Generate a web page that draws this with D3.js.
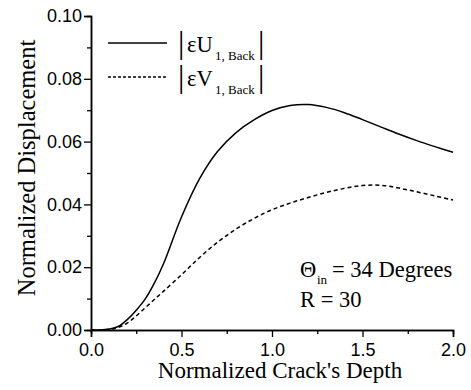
<!DOCTYPE html>
<html>
<head>
<meta charset="utf-8">
<script src="https://cdn.jsdelivr.net/npm/d3@7"></script>
<style>
  body { margin: 0; background: #fff; }
  svg { display: block; }
</style>
</head>
<body>
<svg id="chart" width="471" height="390"></svg>
<script>
// crack depth (normalized)
var depth = [0, 0.05, 0.1, 0.15, 0.2, 0.25, 0.3, 0.35, 0.4, 0.5, 0.6, 0.7, 0.8, 0.9, 1.0,
             1.1, 1.2, 1.3, 1.4, 1.5, 1.6, 1.7, 1.8, 1.9, 2.0];
// |eps U 1,Back|
var uBack = [0, 0, 0.0003, 0.0011, 0.0033, 0.0063, 0.0099, 0.0149, 0.021, 0.036, 0.0482, 0.0569,
             0.0628, 0.0669, 0.0699, 0.0715, 0.0718, 0.0709, 0.0692, 0.0670, 0.0647, 0.0624,
             0.0603, 0.0584, 0.0566];
// |eps V 1,Back|
var vBack = [0, 0, 0.0002, 0.0008, 0.0022, 0.0045, 0.0071, 0.0097, 0.0123, 0.0176, 0.0231, 0.0280,
             0.0321, 0.0355, 0.0383, 0.0404, 0.0422, 0.0438, 0.0451, 0.0460, 0.0461, 0.0452,
             0.0440, 0.0427, 0.0414];
var xTicks = [0, 0.5, 1.0, 1.5, 2.0];
var xMinor = [0.25, 0.75, 1.25, 1.75];
var yTicks = [0, 0.02, 0.04, 0.06, 0.08, 0.10];
var yMinor = [0.01, 0.03, 0.05, 0.07, 0.09];

var svg = d3.select("#chart");
var x = d3.scaleLinear().domain([0, 2]).range([91, 453]);
var y = d3.scaleLinear().domain([0, 0.1]).range([330, 16]);

/* axes: major and minor ticks, only left and bottom */
svg.append("g").attr("transform", "translate(0,330)")
    .call(d3.axisBottom(x).tickValues(xMinor).tickSize(4).tickFormat(""));
svg.append("g").attr("transform", "translate(0,330)")
    .call(d3.axisBottom(x).tickValues(xTicks).tickSize(7).tickPadding(6)
        .tickFormat(d3.format(".1f")));
svg.append("g").attr("transform", "translate(91,0)")
    .call(d3.axisLeft(y).tickValues(yMinor).tickSize(4).tickFormat(""));
svg.append("g").attr("transform", "translate(91,0)")
    .call(d3.axisLeft(y).tickValues(yTicks).tickSize(7).tickPadding(2)
        .tickFormat(d3.format(".2f")));

svg.selectAll(".domain").attr("stroke", "#000").attr("stroke-width", 1.5);
svg.selectAll(".tick line").attr("stroke", "#000").attr("stroke-width", 1.3);
svg.selectAll(".tick text").attr("font-family", "'Liberation Sans', Arial, sans-serif")
    .attr("font-size", 18).attr("fill", "#000");

/* curves */
var line = function(vals) {
    return d3.line().x(function(d, i) { return x(depth[i]); })
        .y(function(d) { return y(d); }).curve(d3.curveCatmullRom.alpha(0.5))(vals);
};
svg.append("path").attr("d", line(uBack)).attr("fill", "none")
    .attr("stroke", "#000").attr("stroke-width", 1.5);
svg.append("path").attr("d", line(vBack)).attr("fill", "none")
    .attr("stroke", "#000").attr("stroke-width", 1.5).attr("stroke-dasharray", "4,3");

/* axis titles */
var serif = "'Liberation Serif', 'Times New Roman', serif";
svg.append("text").attr("x", 280).attr("y", 378).attr("text-anchor", "middle")
    .attr("font-family", serif).attr("font-size", 23).text("Normalized Crack's Depth");
svg.append("text").attr("transform", "translate(35,168) rotate(-90)").attr("text-anchor", "middle")
    .attr("font-family", serif).attr("font-size", 24.5).text("Normalized Displacement");

/* legend */
var legend = [{ sym: "U", y: 43, dash: null }, { sym: "V", y: 77, dash: "3,2" }];
legend.forEach(function(d) {
    svg.append("line").attr("x1", 108).attr("x2", 167).attr("y1", d.y).attr("y2", d.y)
        .attr("stroke", "#000").attr("stroke-width", 1.5).attr("stroke-dasharray", d.dash);
    var g = svg.append("g").attr("font-family", serif).attr("fill", "#000");
    g.append("text").attr("x", 178).attr("y", d.y + 10).attr("font-size", 32).text("|");
    g.append("text").attr("x", 187).attr("y", d.y + 9).attr("font-size", 22.5).text("\u03b5" + d.sym);
    g.append("text").attr("x", 215).attr("y", d.y + 17).attr("font-size", 13).text("1, Back");
    g.append("text").attr("x", 258).attr("y", d.y + 10).attr("font-size", 32).text("|");
});

/* annotation */
var note = svg.append("g").attr("font-family", serif).attr("font-size", 22.5).attr("fill", "#000");
note.append("text").attr("x", 300).attr("y", 277).text("\u0398");
note.append("text").attr("x", 317).attr("y", 284).attr("font-size", 13).text("in");
note.append("text").attr("x", 332).attr("y", 277).text("= 34 Degrees");
note.append("text").attr("x", 300).attr("y", 307).text("R = 30");
</script>
</body>
</html>
